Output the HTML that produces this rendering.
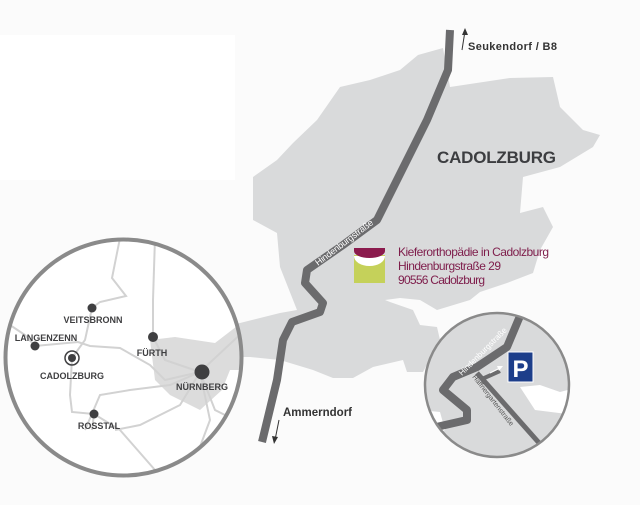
<!DOCTYPE html>
<html><head><meta charset="utf-8"><style>
html,body{margin:0;padding:0;background:#fbfbfb}
svg{display:block}
text{font-family:"Liberation Sans",sans-serif}
</style></head><body>
<svg width="640" height="505" viewBox="0 0 640 505" xmlns="http://www.w3.org/2000/svg">
<rect width="640" height="505" fill="#fbfbfb"/>
<rect x="0" y="35" width="235" height="145" fill="#ffffff"/>
<!-- town -->
<path fill="#d9dadb" d="M400,70 L418,55 L443,48 L450,87 L510,78 L553,77 L560,107 L583,130 L600,135 L593,147 L560,167 L523,177 L520,213 L543,207 L553,227 L540,250 L533,273 L507,283 L480,292 L470,300 L437,310 L420,300 L400,298 L385,300 L390,302 L413,310 L420,325 L437,327 L440,340 L423,372 L407,372 L403,360 L373,367 L353,378 L333,378 L313,370 L280,360 L250,357 L230,357 L232,325 L240,323 L280,313 L297,310 L280,267 L277,233 L253,220 L253,177 L277,160 L293,143 L317,120 L340,87 L370,80 Z"/>
<!-- main road -->
<path d="M450,30 L448,70 L427,120 L377,220 L343,245 L307,270 L305,283 L323,303 L320,312 L292,322 L283,340 L277,380 L262,442" fill="none" stroke="#6b6b6d" stroke-width="8" stroke-linejoin="round"/>
<text x="0" y="0" font-size="9" fill="#fff" textLength="70" transform="translate(318,266) rotate(-37)">Hindenburgstraße</text>
<!-- arrows -->
<path d="M462,50 L465,31" stroke="#333" stroke-width="1"/><path d="M465,28 L462,35 L468,35 Z" fill="#333"/>
<text x="468" y="50" font-size="11" font-weight="bold" fill="#333" textLength="89">Seukendorf / B8</text>
<path d="M279,420 L275,440" stroke="#333" stroke-width="1"/><path d="M274,444 L272,436 L278,437 Z" fill="#333"/>
<text x="283" y="416" font-size="11.5" font-weight="bold" fill="#333">Ammerndorf</text>
<text x="437" y="163" font-size="17" font-weight="bold" fill="#3c3d40" textLength="119">CADOLZBURG</text>
<!-- logo -->
<rect x="354" y="255" width="31" height="28" fill="#c5d15a"/>
<path d="M354,256 A15.5,10 0 0 0 385,256 Z" fill="#fff"/>
<path d="M354,248 L385,248 L385,251 A15.5,7 0 0 1 354,251 Z" fill="#8b1a4d"/>
<g font-size="12" fill="#7e1d4b">
<text x="398" y="256" textLength="151">Kieferorthopädie in Cadolzburg</text>
<text x="398" y="270" textLength="103">Hindenburgstraße 29</text>
<text x="398" y="284" textLength="87">90556 Cadolzburg</text>
</g>
<!-- left circle -->
<defs>
<clipPath id="lc"><circle cx="123.5" cy="357.5" r="118"/></clipPath>
<clipPath id="sc"><circle cx="497" cy="385" r="72"/></clipPath>
</defs>
<circle cx="123.5" cy="357.5" r="118" fill="#fff"/>
<g clip-path="url(#lc)">
<path fill="#dcdcdc" d="M150,340 L175,337 L195,340 L215,343 L245,320 L245,370 L230,370 L222,390 L200,410 L170,395 L155,380 Z"/>
<g fill="none" stroke="#d2d2d2" stroke-width="2">
<path d="M120,238 L112,278 L126,296 L100,302 L92,308 L85,340 L72,358 L70,395 L72,412 L94,414 L92,430"/>
<path d="M10,325 L25,335 L35,346 L78,342 L90,346 L120,348 L150,365 L165,380 L200,372 L245,330"/>
<path d="M155,238 L153,300 L153,337 L165,360 L200,372"/>
<path d="M85,430 L100,395 L130,390 L170,385 L200,372"/>
<path d="M94,414 L120,430 L155,470"/>
<path d="M115,430 L140,425 L180,405 L200,372 L210,420 L195,460 L190,480"/>
<path d="M200,372 L215,410 L235,420"/>
</g>
</g>
<circle cx="123.5" cy="357.5" r="118" fill="none" stroke="#8a8a8a" stroke-width="4"/>
<g fill="#3f3f41">
<circle cx="92" cy="308" r="4.5"/><circle cx="35" cy="346" r="4.5"/>
<circle cx="153" cy="337" r="5"/><circle cx="202" cy="372" r="7.5"/>
<circle cx="94" cy="414" r="4.5"/><circle cx="72" cy="358" r="4"/>
</g>
<circle cx="72" cy="358" r="7" fill="none" stroke="#3f3f41" stroke-width="1.5"/>
<g font-size="9" font-weight="bold" fill="#3f3f41" text-anchor="middle">
<text x="93" y="323">VEITSBRONN</text>
<text x="46" y="341">LANGENZENN</text>
<text x="72" y="379">CADOLZBURG</text>
<text x="152" y="356">FÜRTH</text>
<text x="202" y="390">NÜRNBERG</text>
<text x="99" y="429">ROSSTAL</text>
</g>
<!-- small circle -->
<circle cx="497" cy="385" r="72" fill="#d9dadb"/>
<g clip-path="url(#sc)">
<path fill="#fff" d="M420,310 L425,330 L440,322 L450,312 L500,305 L420,305 Z"/>
<path fill="#fff" d="M520,387 L540,385 L560,392 L575,388 L575,415 L535,410 Z"/>
<path fill="#fff" d="M420,410 L440,412 L445,430 L420,440 Z"/>
<path d="M520,316 L507,347 L477,367 L453,377 L443,390 L467,410 L467,420 L432,428" fill="none" stroke="#6b6b6d" stroke-width="8" stroke-linejoin="round"/>
<path d="M477,373 L540,444" stroke="#6b6b6d" stroke-width="5"/>
<path d="M482,379 L500,371" stroke="#6b6b6d" stroke-width="4"/>
<path d="M490,373 L500,368" stroke="#fff" stroke-width="1"/><path d="M503,366 L497,366 L499,371 Z" fill="#fff"/>
</g>
<circle cx="497" cy="385" r="72" fill="none" stroke="#8a8a8a" stroke-width="2.5"/>
<text font-size="8" fill="#fff" transform="translate(462,376) rotate(-45)">Hindenburgstraße</text>
<text font-size="7" fill="#555" transform="translate(472,377) rotate(52)">Haffnergartenstraße</text>
<rect x="508" y="352" width="25" height="30" fill="#1d3e8a" stroke="#fff" stroke-width="1"/>
<text x="520.5" y="377" font-size="24" font-weight="bold" fill="#fff" text-anchor="middle">P</text>
</svg>
</body></html>
